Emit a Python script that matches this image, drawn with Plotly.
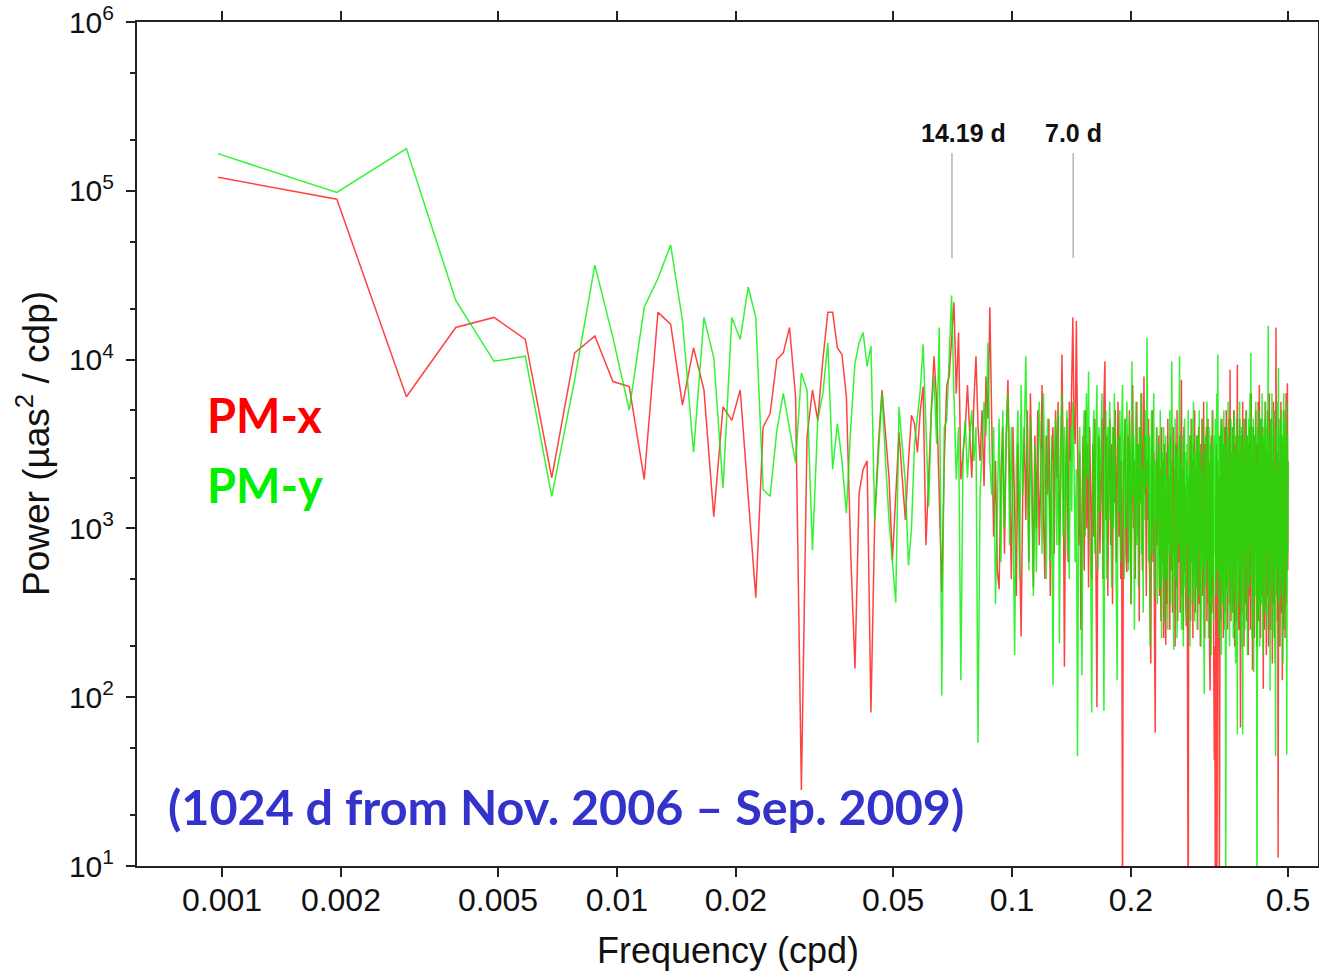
import math
import plotly.graph_objects as go

# ---------------- data ----------------
# Fourier frequencies of a 1024-day record: k/1024 cpd, k = 1..512
n_days = 1024
freq = [k / n_days for k in range(1, 513)]

# log10 of power (uas^2/cdp)
pmx_log_power = [
    5.08, 4.95, 3.78, 4.19, 4.25, 4.12, 3.30, 4.04, 4.14, 3.87,
    3.84, 3.29, 4.28, 4.21, 3.73, 4.07, 3.82, 3.07, 3.72, 3.64,
    3.82, 3.19, 2.59, 3.60, 3.68, 4.00, 4.04, 4.19, 3.78, 1.45,
    3.54, 3.82, 3.64, 4.00, 4.28, 4.28, 4.07, 4.03, 3.78, 2.85,
    2.17, 3.21, 3.35, 3.40, 1.91, 3.05, 3.50, 3.82, 3.55, 3.30,
    2.81, 3.20, 3.57, 3.30, 3.05, 3.40, 3.67, 3.62, 3.45, 3.70,
    3.84, 2.90, 3.35, 3.70, 4.02, 3.75, 3.20, 2.62, 3.40, 3.85,
    3.90, 4.10, 4.34, 3.80, 4.16, 3.29, 3.45, 3.60, 3.85, 3.55,
    3.30, 3.75, 4.02, 3.60, 3.40, 3.70, 3.25, 3.90, 3.65, 4.31,
    3.70, 2.95, 3.40, 2.75, 2.64, 3.30, 3.60, 2.85, 3.55, 3.88,
    3.30, 2.70, 3.60, 3.15, 2.60, 3.50, 2.90, 2.36, 3.20, 3.60,
    3.05, 3.70, 2.80, 3.80, 3.35, 2.65, 3.55, 3.00, 3.70, 2.90,
    3.25, 3.85, 3.10, 2.70, 3.55, 3.20, 3.65, 2.60, 3.40, 3.60,
    2.85, 3.70, 3.30, 3.75, 2.90, 3.25, 4.03, 3.40, 2.18, 3.30,
    3.65, 2.80, 3.75, 3.40, 3.85, 4.25, 3.60, 3.50, 4.23, 3.30,
    2.90, 3.45, 2.40, 3.10, 3.55, 2.75, 3.70, 3.00, 3.50, 2.65,
    3.60, 3.20, 2.70, 3.50, 2.95, 3.65, 2.80, 1.94, 3.30, 3.55,
    2.85, 3.20, 3.65, 2.70, 3.75, 3.99, 3.05, 3.55, 2.60, 3.40,
    3.65, 2.90, 3.50, 2.55, 3.60, 3.15, 3.70, 2.80, 3.45, 3.75,
    2.95, 3.55, 2.70, 3.40, 0.70, 3.20, 3.50, 3.65, 2.85, 2.74,
    3.55, 2.80, 3.70, 3.35, 2.55, 3.45, 3.85, 3.00, 3.40, 2.70,
    3.30, 3.75, 2.95, 3.50, 2.45, 3.60, 3.15, 3.80, 2.75, 3.35,
    3.90, 3.20, 3.55, 2.60, 3.40, 3.05, 3.65, 2.85, 2.50, 2.20,
    3.30, 3.70, 2.80, 3.45, 2.40, 1.79, 3.20, 3.60, 2.90, 3.50,
    3.55, 2.60, 3.35, 2.45, 3.60, 2.80, 3.40, 2.35, 3.50, 2.70,
    2.31, 3.45, 2.55, 3.65, 2.90, 3.30, 2.40, 3.55, 2.75, 3.40,
    2.50, 3.60, 2.85, 3.35, 2.30, 3.50, 2.65, 3.70, 2.45, 3.30,
    2.80, 3.55, 2.50, 3.45, 3.88, 2.60, 3.35, 2.40, 3.60, 2.75,
    3.25, 2.55, 2.42, 3.40, 2.70, 0.50, 3.30, 2.60, 3.55, 2.45,
    3.65, 2.80, 3.40, 2.35, 3.50, 2.75, 3.70, 2.50, 3.35, 2.65,
    3.55, 2.40, 3.30, 3.60, 2.55, 3.45, 2.30, 3.50, 2.85, 3.65,
    2.60, 3.40, 3.75, 2.70, 2.35, 3.50, 2.80, 3.60, 2.45, 3.30,
    3.65, 2.55, 3.40, 2.25, 2.04, 3.20, 3.55, 2.50, 3.35, 3.70,
    2.75, 2.40, 1.63, 2.30, 0.70, 3.15, 3.50, 0.60, 2.65, 3.40,
    2.30, 3.30, 0.80, 2.85, 3.55, 2.45, 3.35, 3.65, 2.60, 3.45,
    2.35, 3.50, 2.80, 3.60, 2.50, 3.35, 3.70, 2.65, 3.40, 2.40,
    3.55, 2.85, 3.65, 2.55, 3.94, 3.20, 2.45, 3.45, 2.75, 3.60,
    2.50, 3.40, 3.70, 2.70, 2.30, 3.50, 2.85, 3.55, 2.45, 3.35,
    3.97, 2.80, 3.45, 2.40, 3.25, 3.65, 2.60, 1.82, 3.15, 3.55,
    2.50, 3.40, 3.75, 2.75, 3.50, 2.30, 3.30, 3.65, 2.55, 3.45,
    3.70, 2.45, 3.25, 3.55, 2.70, 2.25, 3.50, 2.60, 3.60, 2.90,
    2.40, 3.40, 3.80, 2.75, 3.45, 2.16, 3.25, 3.60, 2.55, 3.40,
    2.35, 3.55, 2.85, 3.70, 2.50, 3.35, 2.30, 3.50, 2.75, 3.75,
    2.45, 3.40, 3.85, 2.70, 3.55, 2.35, 3.30, 3.65, 2.60, 3.45,
    2.80, 3.60, 2.05, 2.95, 3.50, 2.40, 3.35, 3.75, 2.55, 3.45,
    2.25, 3.55, 2.85, 3.70, 2.60, 3.35, 2.30, 3.50, 3.80, 2.75,
    3.45, 2.40, 3.25, 3.65, 2.70, 3.40, 2.20, 3.55, 2.85, 3.75,
    2.55, 3.40, 2.35, 3.30, 3.70, 2.75, 4.19, 3.50, 2.60, 3.35,
    2.45, 3.45, 1.05, 3.25, 3.65, 2.60, 3.40, 2.30, 3.55, 2.85,
    3.75, 2.50, 3.35, 3.55, 2.10, 3.10, 3.50, 2.40, 3.30, 3.70,
    2.65, 3.40, 2.35, 3.55, 2.80, 3.80, 2.55, 3.35, 3.60, 3.86,
    2.75, 3.40,
]

pmy_log_power = [
    5.22, 4.99, 5.25, 4.35, 3.99, 4.02, 3.19, 3.88, 4.56, 4.13,
    3.70, 4.31, 4.48, 4.68, 4.23, 3.45, 4.25, 4.01, 3.24, 4.25,
    4.12, 4.43, 4.25, 3.23, 3.19, 3.58, 3.80, 3.58, 3.39, 3.92,
    3.82, 2.87, 3.64, 3.80, 4.10, 3.35, 3.62, 3.40, 3.09, 3.60,
    3.98, 4.10, 4.16, 3.96, 4.08, 3.05, 3.40, 3.80, 3.40, 3.05,
    2.80, 2.56, 3.72, 3.50, 3.27, 2.78, 3.00, 3.50, 3.65, 3.82,
    4.09, 3.60, 3.13, 3.70, 3.90, 3.50, 4.19, 2.01, 3.60, 3.64,
    4.00, 4.38, 3.80, 3.29, 3.60, 2.10, 3.45, 3.64, 3.30, 3.55,
    3.70, 3.40, 3.60, 1.73, 3.20, 3.50, 3.75, 3.55, 4.10, 3.40,
    3.20, 3.60, 2.55, 3.10, 3.65, 2.80, 3.70, 3.00, 3.55, 3.80,
    2.90, 3.60, 3.10, 2.25, 3.35, 3.70, 2.70, 3.85, 3.20, 3.55,
    4.02, 3.30, 2.75, 3.65, 3.20, 2.60, 3.50, 2.74, 3.30, 3.75,
    3.40, 2.85, 3.80, 3.35, 2.70, 3.65, 3.25, 2.80, 3.55, 2.07,
    3.35, 3.65, 2.90, 3.70, 2.32, 3.45, 3.80, 2.95, 3.60, 2.85,
    3.70, 3.25, 2.70, 3.60, 3.10, 3.75, 3.40, 2.80, 3.35, 1.65,
    3.20, 3.60, 3.00, 2.13, 3.45, 3.70, 2.95, 3.80, 3.30, 3.93,
    3.00, 2.80, 1.91, 3.45, 3.70, 2.85, 3.50, 3.85, 2.75, 3.60,
    3.10, 3.55, 3.80, 2.95, 1.92, 3.45, 3.70, 2.70, 3.60, 3.05,
    3.75, 3.30, 2.65, 3.60, 3.00, 3.80, 3.35, 2.75, 2.10, 3.55,
    3.10, 3.70, 2.80, 3.60, 3.85, 3.20, 2.70, 3.65, 3.00, 3.75,
    3.45, 2.75, 3.65, 3.30, 2.55, 3.99, 3.20, 3.55, 2.40, 3.40,
    3.75, 2.90, 3.50, 2.65, 3.60, 3.15, 3.80, 2.85, 3.35, 2.50,
    3.55, 3.05, 3.70, 3.25, 4.13, 3.40, 2.80, 3.55, 2.30, 3.30,
    3.70, 2.85, 3.45, 3.80, 2.60, 3.40, 3.05, 3.60, 2.55, 3.35,
    3.50, 2.65, 3.70, 2.95, 2.35, 3.45, 2.70, 3.60, 2.45, 3.35,
    3.55, 2.70, 3.30, 2.40, 3.50, 2.85, 3.70, 2.55, 3.40, 3.99,
    2.95, 2.50, 2.28, 3.35, 3.65, 2.70, 3.45, 2.35, 3.50, 2.90,
    3.75, 4.02, 2.80, 3.40, 2.40, 3.55, 2.95, 2.30, 3.35, 3.65,
    2.65, 3.45, 2.45, 3.50, 2.90, 3.70, 2.60, 3.35, 2.30, 3.55,
    2.80, 3.65, 2.55, 3.40, 3.75, 2.75, 2.45, 3.45, 2.65, 3.55,
    3.05, 2.40, 3.55, 2.85, 3.70, 2.60, 3.45, 2.30, 3.35, 2.75,
    3.65, 3.00, 2.50, 2.02, 3.25, 3.55, 2.65, 3.40, 3.75, 2.80,
    3.40, 2.35, 3.60, 2.90, 2.55, 3.50, 2.25, 3.30, 3.70, 2.70,
    3.45, 2.45, 3.55, 2.85, 3.65, 2.60, 3.35, 3.80, 2.75, 4.03,
    3.00, 2.35, 3.55, 2.70, 3.45, 3.65, 2.25, 3.30, 3.60, 2.55,
    3.40, 3.70, 2.75, 2.40, 3.50, 0.60, 2.95, 3.60, 2.60, 3.45,
    3.75, 2.70, 3.35, 2.30, 3.55, 2.85, 3.65, 2.50, 3.45, 2.80,
    3.60, 2.35, 3.40, 3.70, 2.65, 3.45, 2.20, 3.30, 3.65, 2.60,
    1.78, 3.25, 3.55, 2.55, 3.45, 3.75, 2.75, 3.40, 2.30, 3.60,
    2.95, 2.60, 1.78, 3.35, 3.65, 2.70, 3.50, 2.40, 3.55, 2.85,
    3.70, 2.55, 3.40, 2.25, 3.55, 2.80, 3.65, 2.65, 3.45, 3.80,
    2.90, 4.04, 2.70, 3.45, 2.35, 3.60, 2.95, 3.65, 2.15, 3.40,
    3.55, 2.60, 3.45, 3.75, 2.75, 3.35, 0.50, 3.25, 3.60, 2.50,
    3.45, 3.70, 2.65, 2.30, 3.55, 2.90, 3.65, 2.55, 3.40, 3.80,
    2.80, 3.45, 2.25, 3.55, 2.95, 3.65, 2.50, 3.40, 3.75, 2.70,
    3.45, 2.40, 3.60, 2.85, 3.70, 4.20, 3.00, 2.55, 3.55, 2.80,
    2.04, 3.40, 3.65, 2.65, 3.50, 3.80, 2.85, 2.35, 3.55, 3.00,
    3.70, 2.70, 3.45, 2.20, 3.35, 1.65, 3.25, 3.60, 2.60, 3.50,
    3.75, 2.75, 3.40, 3.95, 2.55, 3.55, 2.90, 2.30, 3.45, 3.65,
    2.70, 3.40, 3.70, 2.60, 3.55, 2.95, 2.20, 3.50, 3.80, 2.80,
    3.35, 3.65, 2.65, 3.55, 2.40, 3.45, 3.75, 1.66, 3.30, 3.55,
    2.85, 3.40,
]

pmx_power = [10 ** v for v in pmx_log_power]
pmy_power = [10 ** v for v in pmy_log_power]

# marked periods (days) and the extent of their marker lines
marked_periods = [14.19, 7.0]
marked_labels = ["14.19 d", "7.0 d"]
marker_line_power = [4.0e4, 1.675e5]

x_tick_vals = [0.001, 0.002, 0.005, 0.01, 0.02, 0.05, 0.1, 0.2, 0.5]
x_tick_text = ["0.001", "0.002", "0.005", "0.01", "0.02", "0.05", "0.1", "0.2", "0.5"]
y_tick_vals = [1e1, 1e2, 1e3, 1e4, 1e5, 1e6]
y_tick_text = ["10<sup>%d</sup>" % e for e in range(1, 7)]

# ---------------- figure ----------------
W, H = 1319, 973
L, R, T, B = 137, 1, 22, 107
plot_w = W - L - R
plot_h = H - T - B

fig = go.Figure()

fig.add_trace(go.Scatter(
    x=freq, y=pmx_power, mode="lines", name="PM-x",
    line=dict(color="rgba(255,20,20,0.8)", width=1.5),
    hoverinfo="x+y"))
fig.add_trace(go.Scatter(
    x=freq, y=pmy_power, mode="lines", name="PM-y",
    line=dict(color="rgba(0,240,0,0.8)", width=1.5),
    hoverinfo="x+y"))

for p in marked_periods:
    fig.add_trace(go.Scatter(
        x=[1.0 / p, 1.0 / p], y=marker_line_power, mode="lines",
        line=dict(color="#a8a8a8", width=1.3), hoverinfo="skip",
        showlegend=False))

def px_x(px):
    return (px - L) / plot_w

def px_y(py):
    return (H - B - py) / plot_h

SANS = "Liberation Sans"
annotations = []
label_x = [963, 1073]
for lab, lx in zip(marked_labels, label_x):
    annotations.append(dict(
        x=px_x(lx), y=px_y(133), xref="paper", yref="paper",
        text="<b>%s</b>" % lab, showarrow=False,
        font=dict(family=SANS, size=25, color="#111111"),
        xanchor="center", yanchor="middle"))

annotations.append(dict(
    x=px_x(205), y=px_y(415), xref="paper", yref="paper",
    text="<b>PM-x</b>", showarrow=False, xanchor="left", yanchor="middle",
    font=dict(family="Lato", size=47, color="#ff0000")))
annotations.append(dict(
    x=px_x(205), y=px_y(485), xref="paper", yref="paper",
    text="<b>PM-y</b>", showarrow=False, xanchor="left", yanchor="middle",
    font=dict(family="Lato", size=47, color="#00f000")))
annotations.append(dict(
    x=px_x(166), y=px_y(806), xref="paper", yref="paper",
    text="<b>(1024 d from Nov. 2006 \u2013 Sep. 2009)</b>", showarrow=False,
    xanchor="left", yanchor="middle",
    font=dict(family="Lato", size=48.5, color="#3333cc")))

# axis titles
annotations.append(dict(
    x=0.5, y=px_y(950), xref="paper", yref="paper",
    text="Frequency (cpd)", showarrow=False, xanchor="center", yanchor="middle",
    font=dict(family=SANS, size=36, color="#111111")))
annotations.append(dict(
    x=px_x(33), y=0.5, xref="paper", yref="paper",
    text="Power (\u00b5as<sup>2</sup> / cdp)", showarrow=False, textangle=-90,
    xanchor="center", yanchor="middle",
    font=dict(family=SANS, size=37, color="#111111")))

x_min_log = -2 + (L - 617) / 395.0
x_max_log = -2 + (W - R - 617) / 395.0

fig.update_layout(
    width=W, height=H, autosize=False,
    margin=dict(l=L, r=R, t=T, b=B, pad=0, autoexpand=False),
    paper_bgcolor="white", plot_bgcolor="white",
    showlegend=False,
    annotations=annotations,
    xaxis=dict(
        type="log", range=[x_min_log, x_max_log],
        tickvals=x_tick_vals, ticktext=x_tick_text,
        ticks="outside", ticklen=9, tickwidth=2, tickcolor="#222",
        showline=True, linecolor="#222", linewidth=2, mirror="ticks",
        showgrid=False, zeroline=False, ticklabelstandoff=-4,
        tickfont=dict(family=SANS, size=32, color="#111"),
    ),
    yaxis=dict(
        type="log", range=[1, 6],
        tickvals=y_tick_vals, ticktext=y_tick_text,
        ticks="outside", ticklen=9, tickwidth=2, tickcolor="#222",
        showline=True, linecolor="#222", linewidth=2, mirror="ticks",
        showgrid=False, zeroline=False, ticklabelstandoff=6,
        minor=dict(ticks="outside", ticklen=5, tickwidth=1.5, tickcolor="#222",
                   showgrid=False),
        tickfont=dict(family=SANS, size=30, color="#111"),
    ),
)

post = (
    "document.body.style.margin='0';"
    "document.body.style.overflow='hidden';"
    "var gd=document.getElementById('{plot_id}');"
    "Plotly.relayout(gd,{width:%d,height:%d});" % (W, H)
)

fig.write_html("out.html", config={"responsive": False, "displayModeBar": False},
               post_script=post)
